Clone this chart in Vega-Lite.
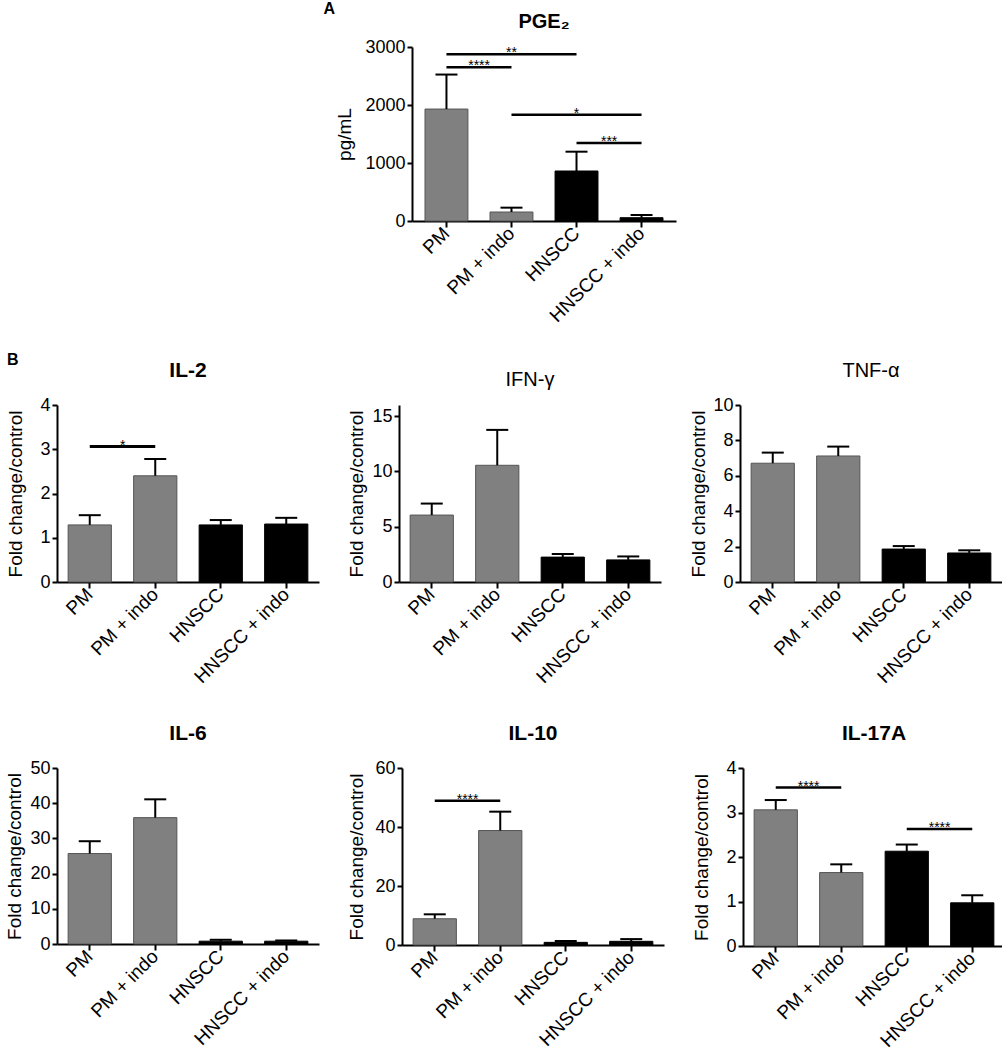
{
  "$schema": "https://vega.github.io/schema/vega-lite/v6.json",
  "padding": {"left": 5, "top": 0, "right": 2, "bottom": 2},
  "datasets": {
    "bars": [
      {"panel": "PGE2", "group": "PM", "cell": "PM", "mean": 1930, "upper": 2525},
      {"panel": "PGE2", "group": "PM + indo", "cell": "PM", "mean": 155, "upper": 230},
      {"panel": "PGE2", "group": "HNSCC", "cell": "HNSCC", "mean": 862, "upper": 1195},
      {"panel": "PGE2", "group": "HNSCC + indo", "cell": "HNSCC", "mean": 57, "upper": 103},
      {"panel": "IL2", "group": "PM", "cell": "PM", "mean": 1.29, "upper": 1.51},
      {"panel": "IL2", "group": "PM + indo", "cell": "PM", "mean": 2.4, "upper": 2.78},
      {"panel": "IL2", "group": "HNSCC", "cell": "HNSCC", "mean": 1.29, "upper": 1.4},
      {"panel": "IL2", "group": "HNSCC + indo", "cell": "HNSCC", "mean": 1.31, "upper": 1.45},
      {"panel": "IFNg", "group": "PM", "cell": "PM", "mean": 6.05, "upper": 7.09},
      {"panel": "IFNg", "group": "PM + indo", "cell": "PM", "mean": 10.55, "upper": 13.75},
      {"panel": "IFNg", "group": "HNSCC", "cell": "HNSCC", "mean": 2.25, "upper": 2.53},
      {"panel": "IFNg", "group": "HNSCC + indo", "cell": "HNSCC", "mean": 2.0, "upper": 2.31},
      {"panel": "TNFa", "group": "PM", "cell": "PM", "mean": 6.71, "upper": 7.31},
      {"panel": "TNFa", "group": "PM + indo", "cell": "PM", "mean": 7.12, "upper": 7.65},
      {"panel": "TNFa", "group": "HNSCC", "cell": "HNSCC", "mean": 1.86, "upper": 2.03},
      {"panel": "TNFa", "group": "HNSCC + indo", "cell": "HNSCC", "mean": 1.64, "upper": 1.79},
      {"panel": "IL6", "group": "PM", "cell": "PM", "mean": 25.7, "upper": 29.2},
      {"panel": "IL6", "group": "PM + indo", "cell": "PM", "mean": 35.9, "upper": 41.1},
      {"panel": "IL6", "group": "HNSCC", "cell": "HNSCC", "mean": 0.8, "upper": 1.2},
      {"panel": "IL6", "group": "HNSCC + indo", "cell": "HNSCC", "mean": 0.8, "upper": 1.0},
      {"panel": "IL10", "group": "PM", "cell": "PM", "mean": 8.9, "upper": 10.4},
      {"panel": "IL10", "group": "PM + indo", "cell": "PM", "mean": 38.8, "upper": 45.2},
      {"panel": "IL10", "group": "HNSCC", "cell": "HNSCC", "mean": 0.9, "upper": 1.36},
      {"panel": "IL10", "group": "HNSCC + indo", "cell": "HNSCC", "mean": 1.25, "upper": 2.0},
      {"panel": "IL17A", "group": "PM", "cell": "PM", "mean": 3.06, "upper": 3.28},
      {"panel": "IL17A", "group": "PM + indo", "cell": "PM", "mean": 1.65, "upper": 1.835},
      {"panel": "IL17A", "group": "HNSCC", "cell": "HNSCC", "mean": 2.13, "upper": 2.28},
      {"panel": "IL17A", "group": "HNSCC + indo", "cell": "HNSCC", "mean": 0.97, "upper": 1.14}
    ],
    "sig": [
      {"panel": "PGE2", "from": "PM", "to": "HNSCC", "mid": "PM + indo", "y": 2874, "label": "**"},
      {"panel": "PGE2", "from": "PM", "to": "PM + indo", "y": 2649, "label": "****"},
      {"panel": "PGE2", "from": "PM + indo", "to": "HNSCC + indo", "mid": "HNSCC", "y": 1833, "label": "*"},
      {"panel": "PGE2", "from": "HNSCC", "to": "HNSCC + indo", "y": 1345, "label": "***"},
      {"panel": "IL2", "from": "PM", "to": "PM + indo", "y": 3.06, "label": "*"},
      {"panel": "IL10", "from": "PM", "to": "PM + indo", "y": 48.9, "label": "****"},
      {"panel": "IL17A", "from": "PM", "to": "PM + indo", "y": 3.56, "label": "****"},
      {"panel": "IL17A", "from": "HNSCC", "to": "HNSCC + indo", "y": 2.63, "label": "****"}
    ]
  },
  "config": {
    "font": "Liberation Sans",
    "view": {"stroke": null},
    "title": {"fontSize": 21, "fontWeight": "bold", "color": "#000", "offset": 15, "font": "Liberation Sans", "anchor": "middle", "frame": "group"},
    "axis": {"domainColor": "#000", "domainWidth": 2, "tickColor": "#000", "tickWidth": 2, "tickSize": 5, "labelColor": "#000", "labelFontSize": 18, "labelFont": "Liberation Sans", "titleFont": "Liberation Sans", "titleFontSize": 19, "titleFontWeight": "normal", "titleColor": "#000", "grid": false, "labelPadding": 2},
    "axisX": {"labelAngle": -45, "labelAlign": "right", "labelBaseline": "middle", "tickSize": 6, "labelPadding": 3, "labelFontSize": 19, "labelOverlap": false, "labelBound": false, "labelFlush": false},
    "axisY": {"labelOverlap": false, "format": "d", "labelFlush": false}
  },
  "spacing": 26,
  "vconcat": [
    {
      "spacing": 0,
      "hconcat": [
        {"width": 278, "height": 1, "title": {"text": "A", "anchor": "end", "fontSize": 16, "fontWeight": "bold", "offset": 25}, "data": {"values": [{}]}, "mark": {"type": "text", "text": ""}, "encoding": {}},
        {
          "width": 264, "height": 174,
          "title": {"text": "PGE₂", "fontSize": 20, "offset": 6},
          "data": {"name": "bars"},
          "transform": [{"filter": "datum.panel == 'PGE2'"}],
          "encoding": {"x": {"field": "group", "type": "nominal", "title": null, "scale": {"domain": ["PM", "PM + indo", "HNSCC", "HNSCC + indo"], "paddingInner": 0.34, "paddingOuter": 0.2}}},
          "layer": [
            {"mark": {"type": "bar", "strokeWidth": 1}, "encoding": {"y": {"field": "mean", "type": "quantitative", "scale": {"domain": [0, 3000]}, "axis": {"title": "pg/mL", "values": [0, 1000, 2000, 3000], "tickCount": 12, "titlePadding": 10, "labelOverlap": false, "format": "d"}}, "color": {"field": "cell", "type": "nominal", "scale": {"domain": ["PM", "HNSCC"], "range": ["#808080", "#000000"]}, "legend": null}, "stroke": {"field": "cell", "type": "nominal", "scale": {"domain": ["PM", "HNSCC"], "range": ["#555555", "#000000"]}, "legend": null}}},
            {"mark": {"type": "rule", "color": "#000", "strokeWidth": 2}, "encoding": {"y": {"field": "mean", "type": "quantitative"}, "y2": {"field": "upper"}}},
            {"mark": {"type": "tick", "color": "#000", "thickness": 2, "size": 22, "opacity": 1}, "encoding": {"y": {"field": "upper", "type": "quantitative"}}},
            {"data": {"name": "sig"}, "transform": [{"filter": "datum.panel == 'PGE2'"}], "mark": {"type": "rule", "color": "#000", "strokeWidth": 2.5}, "encoding": {"x": {"field": "from", "type": "nominal", "title": null}, "x2": {"field": "to"}, "y": {"field": "y", "type": "quantitative"}}},
            {"data": {"name": "sig"}, "transform": [{"filter": "datum.panel == 'PGE2' && !datum.mid"}], "mark": {"type": "text", "fontSize": 14, "baseline": "alphabetic", "dy": 3, "color": "#000"}, "encoding": {"x": {"field": "from", "type": "nominal", "title": null, "bandPosition": 1.26}, "y": {"field": "y", "type": "quantitative"}, "text": {"field": "label"}}},
            {"data": {"name": "sig"}, "transform": [{"filter": "datum.panel == 'PGE2' && datum.mid"}], "mark": {"type": "text", "fontSize": 14, "baseline": "alphabetic", "dy": 3, "color": "#000"}, "encoding": {"x": {"field": "mid", "type": "nominal", "title": null}, "y": {"field": "y", "type": "quantitative"}, "text": {"field": "label"}}}
          ]
        }
      ]
    },
    {
      "spacing": 36,
      "vconcat": [
        {
          "title": {"text": "B", "anchor": "start", "frame": "bounds", "fontSize": 16, "fontWeight": "bold", "offset": -8},
          "spacing": 28,
          "hconcat": [
            {
              "width": 262, "height": 177,
              "title": {"text": "IL-2"},
              "data": {"name": "bars"},
              "transform": [{"filter": "datum.panel == 'IL2'"}],
              "encoding": {"x": {"field": "group", "type": "nominal", "title": null, "scale": {"domain": ["PM", "PM + indo", "HNSCC", "HNSCC + indo"], "paddingInner": 0.34, "paddingOuter": 0.17}}},
              "layer": [
                {"mark": {"type": "bar", "strokeWidth": 1}, "encoding": {"y": {"field": "mean", "type": "quantitative", "scale": {"domain": [0, 4]}, "axis": {"title": "Fold change/control", "values": [0, 1, 2, 3, 4], "tickCount": 12, "titlePadding": 14, "labelOverlap": false}}, "color": {"field": "cell", "type": "nominal", "scale": {"domain": ["PM", "HNSCC"], "range": ["#808080", "#000000"]}, "legend": null}, "stroke": {"field": "cell", "type": "nominal", "scale": {"domain": ["PM", "HNSCC"], "range": ["#555555", "#000000"]}, "legend": null}}},
                {"mark": {"type": "rule", "color": "#000", "strokeWidth": 2}, "encoding": {"y": {"field": "mean", "type": "quantitative"}, "y2": {"field": "upper"}}},
                {"mark": {"type": "tick", "color": "#000", "thickness": 2, "size": 22, "opacity": 1}, "encoding": {"y": {"field": "upper", "type": "quantitative"}}},
                {"data": {"name": "sig"}, "transform": [{"filter": "datum.panel == 'IL2'"}], "mark": {"type": "rule", "color": "#000", "strokeWidth": 3}, "encoding": {"x": {"field": "from", "type": "nominal", "title": null}, "x2": {"field": "to"}, "y": {"field": "y", "type": "quantitative"}}},
                {"data": {"name": "sig"}, "transform": [{"filter": "datum.panel == 'IL2'"}], "mark": {"type": "text", "fontSize": 14, "baseline": "alphabetic", "dy": 3, "color": "#000"}, "encoding": {"x": {"field": "from", "type": "nominal", "title": null, "bandPosition": 1.26}, "y": {"field": "y", "type": "quantitative"}, "text": {"field": "label"}}}
              ]
            },
            {
              "width": 262, "height": 177,
              "title": {"text": "IFN-γ", "fontWeight": "normal", "fontSize": 20},
              "data": {"name": "bars"},
              "transform": [{"filter": "datum.panel == 'IFNg'"}],
              "encoding": {"x": {"field": "group", "type": "nominal", "title": null, "scale": {"domain": ["PM", "PM + indo", "HNSCC", "HNSCC + indo"], "paddingInner": 0.34, "paddingOuter": 0.17}}},
              "layer": [
                {"mark": {"type": "bar", "strokeWidth": 1}, "encoding": {"y": {"field": "mean", "type": "quantitative", "scale": {"domain": [0, 15]}, "axis": {"title": "Fold change/control", "values": [0, 5, 10, 15], "tickCount": 12, "titlePadding": 5, "labelOverlap": false}}, "color": {"field": "cell", "type": "nominal", "scale": {"domain": ["PM", "HNSCC"], "range": ["#808080", "#000000"]}, "legend": null}, "stroke": {"field": "cell", "type": "nominal", "scale": {"domain": ["PM", "HNSCC"], "range": ["#555555", "#000000"]}, "legend": null}}},
                {"mark": {"type": "rule", "color": "#000", "strokeWidth": 2}, "encoding": {"y": {"field": "mean", "type": "quantitative"}, "y2": {"field": "upper"}}},
                {"mark": {"type": "tick", "color": "#000", "thickness": 2, "size": 22, "opacity": 1}, "encoding": {"y": {"field": "upper", "type": "quantitative"}}}
              ]
            },
            {
              "width": 262, "height": 177,
              "title": {"text": "TNF-α", "fontWeight": "normal", "fontSize": 20},
              "data": {"name": "bars"},
              "transform": [{"filter": "datum.panel == 'TNFa'"}],
              "encoding": {"x": {"field": "group", "type": "nominal", "title": null, "scale": {"domain": ["PM", "PM + indo", "HNSCC", "HNSCC + indo"], "paddingInner": 0.34, "paddingOuter": 0.17}}},
              "layer": [
                {"mark": {"type": "bar", "strokeWidth": 1}, "encoding": {"y": {"field": "mean", "type": "quantitative", "scale": {"domain": [0, 10]}, "axis": {"title": "Fold change/control", "values": [0, 2, 4, 6, 8, 10], "tickCount": 12, "titlePadding": 4, "labelOverlap": false}}, "color": {"field": "cell", "type": "nominal", "scale": {"domain": ["PM", "HNSCC"], "range": ["#808080", "#000000"]}, "legend": null}, "stroke": {"field": "cell", "type": "nominal", "scale": {"domain": ["PM", "HNSCC"], "range": ["#555555", "#000000"]}, "legend": null}}},
                {"mark": {"type": "rule", "color": "#000", "strokeWidth": 2}, "encoding": {"y": {"field": "mean", "type": "quantitative"}, "y2": {"field": "upper"}}},
                {"mark": {"type": "tick", "color": "#000", "thickness": 2, "size": 22, "opacity": 1}, "encoding": {"y": {"field": "upper", "type": "quantitative"}}}
              ]
            }
          ]
        },
        {
          "spacing": 28,
          "hconcat": [
            {
              "width": 262, "height": 176,
              "title": {"text": "IL-6"},
              "data": {"name": "bars"},
              "transform": [{"filter": "datum.panel == 'IL6'"}],
              "encoding": {"x": {"field": "group", "type": "nominal", "title": null, "scale": {"domain": ["PM", "PM + indo", "HNSCC", "HNSCC + indo"], "paddingInner": 0.34, "paddingOuter": 0.17}}},
              "layer": [
                {"mark": {"type": "bar", "strokeWidth": 1}, "encoding": {"y": {"field": "mean", "type": "quantitative", "scale": {"domain": [0, 50]}, "axis": {"title": "Fold change/control", "values": [0, 10, 20, 30, 40, 50], "tickCount": 12, "titlePadding": 5, "labelOverlap": false}}, "color": {"field": "cell", "type": "nominal", "scale": {"domain": ["PM", "HNSCC"], "range": ["#808080", "#000000"]}, "legend": null}, "stroke": {"field": "cell", "type": "nominal", "scale": {"domain": ["PM", "HNSCC"], "range": ["#555555", "#000000"]}, "legend": null}}},
                {"mark": {"type": "rule", "color": "#000", "strokeWidth": 2}, "encoding": {"y": {"field": "mean", "type": "quantitative"}, "y2": {"field": "upper"}}},
                {"mark": {"type": "tick", "color": "#000", "thickness": 2, "size": 22, "opacity": 1}, "encoding": {"y": {"field": "upper", "type": "quantitative"}}}
              ]
            },
            {
              "width": 262, "height": 177,
              "title": {"text": "IL-10"},
              "data": {"name": "bars"},
              "transform": [{"filter": "datum.panel == 'IL10'"}],
              "encoding": {"x": {"field": "group", "type": "nominal", "title": null, "scale": {"domain": ["PM", "PM + indo", "HNSCC", "HNSCC + indo"], "paddingInner": 0.34, "paddingOuter": 0.17}}},
              "layer": [
                {"mark": {"type": "bar", "strokeWidth": 1}, "encoding": {"y": {"field": "mean", "type": "quantitative", "scale": {"domain": [0, 60]}, "axis": {"title": "Fold change/control", "values": [0, 20, 40, 60], "tickCount": 12, "titlePadding": 8, "labelOverlap": false}}, "color": {"field": "cell", "type": "nominal", "scale": {"domain": ["PM", "HNSCC"], "range": ["#808080", "#000000"]}, "legend": null}, "stroke": {"field": "cell", "type": "nominal", "scale": {"domain": ["PM", "HNSCC"], "range": ["#555555", "#000000"]}, "legend": null}}},
                {"mark": {"type": "rule", "color": "#000", "strokeWidth": 2}, "encoding": {"y": {"field": "mean", "type": "quantitative"}, "y2": {"field": "upper"}}},
                {"mark": {"type": "tick", "color": "#000", "thickness": 2, "size": 22, "opacity": 1}, "encoding": {"y": {"field": "upper", "type": "quantitative"}}},
                {"data": {"name": "sig"}, "transform": [{"filter": "datum.panel == 'IL10'"}], "mark": {"type": "rule", "color": "#000", "strokeWidth": 2.5}, "encoding": {"x": {"field": "from", "type": "nominal", "title": null}, "x2": {"field": "to"}, "y": {"field": "y", "type": "quantitative"}}},
                {"data": {"name": "sig"}, "transform": [{"filter": "datum.panel == 'IL10'"}], "mark": {"type": "text", "fontSize": 14, "baseline": "alphabetic", "dy": 3, "color": "#000"}, "encoding": {"x": {"field": "from", "type": "nominal", "title": null, "bandPosition": 1.26}, "y": {"field": "y", "type": "quantitative"}, "text": {"field": "label"}}}
              ]
            },
            {
              "width": 262, "height": 178,
              "title": {"text": "IL-17A"},
              "data": {"name": "bars"},
              "transform": [{"filter": "datum.panel == 'IL17A'"}],
              "encoding": {"x": {"field": "group", "type": "nominal", "title": null, "scale": {"domain": ["PM", "PM + indo", "HNSCC", "HNSCC + indo"], "paddingInner": 0.34, "paddingOuter": 0.17}}},
              "layer": [
                {"mark": {"type": "bar", "strokeWidth": 1}, "encoding": {"y": {"field": "mean", "type": "quantitative", "scale": {"domain": [0, 4]}, "axis": {"title": "Fold change/control", "values": [0, 1, 2, 3, 4], "tickCount": 12, "titlePadding": 14, "labelOverlap": false}}, "color": {"field": "cell", "type": "nominal", "scale": {"domain": ["PM", "HNSCC"], "range": ["#808080", "#000000"]}, "legend": null}, "stroke": {"field": "cell", "type": "nominal", "scale": {"domain": ["PM", "HNSCC"], "range": ["#555555", "#000000"]}, "legend": null}}},
                {"mark": {"type": "rule", "color": "#000", "strokeWidth": 2}, "encoding": {"y": {"field": "mean", "type": "quantitative"}, "y2": {"field": "upper"}}},
                {"mark": {"type": "tick", "color": "#000", "thickness": 2, "size": 22, "opacity": 1}, "encoding": {"y": {"field": "upper", "type": "quantitative"}}},
                {"data": {"name": "sig"}, "transform": [{"filter": "datum.panel == 'IL17A'"}], "mark": {"type": "rule", "color": "#000", "strokeWidth": 2.5}, "encoding": {"x": {"field": "from", "type": "nominal", "title": null}, "x2": {"field": "to"}, "y": {"field": "y", "type": "quantitative"}}},
                {"data": {"name": "sig"}, "transform": [{"filter": "datum.panel == 'IL17A'"}], "mark": {"type": "text", "fontSize": 14, "baseline": "alphabetic", "dy": 3, "color": "#000"}, "encoding": {"x": {"field": "from", "type": "nominal", "title": null, "bandPosition": 1.26}, "y": {"field": "y", "type": "quantitative"}, "text": {"field": "label"}}}
              ]
            }
          ]
        }
      ]
    }
  ]
}
